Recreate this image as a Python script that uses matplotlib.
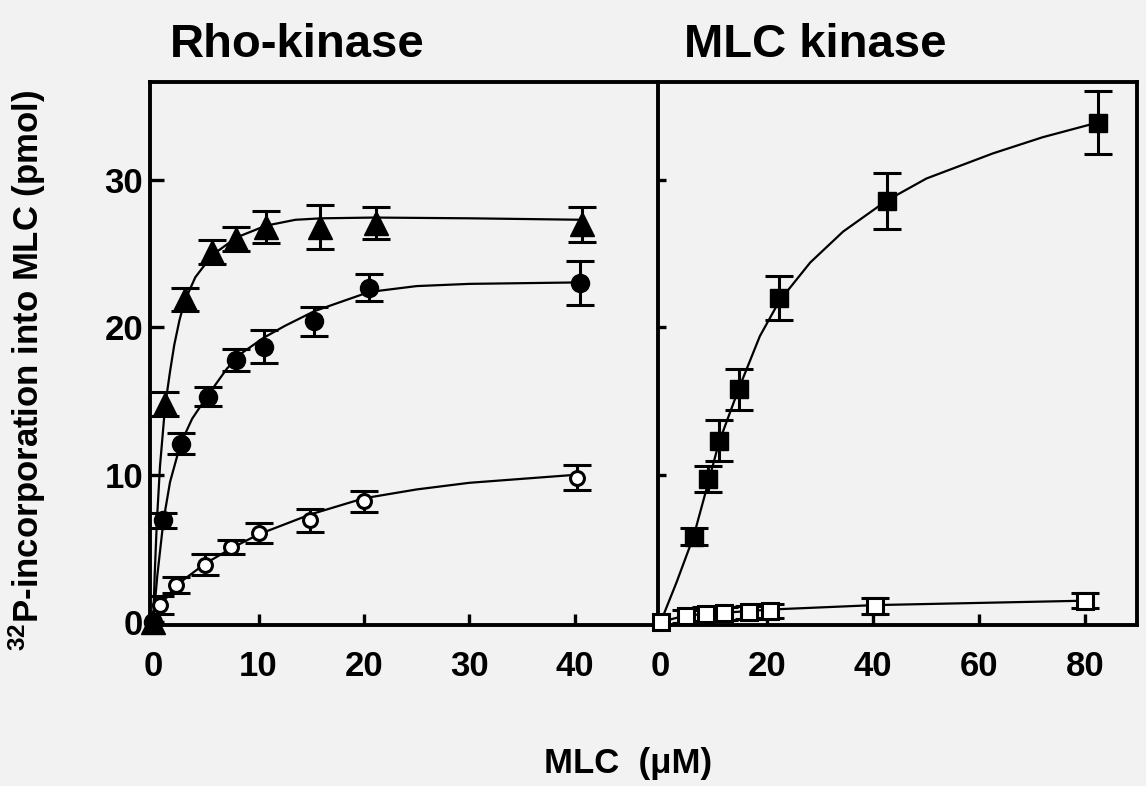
import matplotlib
matplotlib.use('Agg')
import matplotlib.pyplot as plt
import numpy as np

# ---------------- data ----------------
# Rho-kinase panel
tri_x = [0, 1.14, 3.0, 5.6, 7.9, 10.7, 15.8, 21.1, 40.7]
tri_y = [0, 14.8, 21.9, 25.1, 26.0, 26.8, 26.8, 27.1, 27.0]
tri_err = [0, 0.8, 0.8, 0.8, 0.8, 1.1, 1.5, 1.1, 1.2]

circ_x = [0, 0.98, 2.6, 5.2, 7.9, 10.5, 15.3, 20.5, 40.5]
circ_y = [0, 6.9, 12.1, 15.3, 17.8, 18.7, 20.4, 22.7, 23.0]
circ_err = [0, 0.5, 0.7, 0.65, 0.75, 1.15, 1.0, 0.9, 1.5]

ocirc_x = [0, 0.66, 2.2, 4.9, 7.4, 10.0, 14.9, 20.0, 40.2]
ocirc_y = [0, 1.15, 2.5, 3.9, 5.1, 6.05, 6.9, 8.2, 9.8]
ocirc_err = [0, 0.6, 0.55, 0.7, 0.5, 0.7, 0.8, 0.7, 0.85]

# fitted curves as drawn in the figure
tri_cx = [0, 0.15, 0.35, 0.65, 1.14, 1.6, 2.0, 2.5, 3.0, 4.0, 5.6, 7.9, 10.7, 13.5, 16, 21, 30, 40.7]
tri_cy = [0, 3.3, 6.8, 10.6, 14.7, 17.0, 18.8, 20.5, 21.8, 23.4, 24.9, 26.1, 26.9, 27.3, 27.4, 27.45, 27.4, 27.3]

circ_cx = [0, 0.4, 0.98, 1.6, 2.6, 3.7, 5.2, 7.0, 8.5, 10.5, 12.5, 15.3, 20.5, 25, 30, 40.5]
circ_cy = [0, 3.2, 6.9, 9.5, 12.1, 13.8, 15.4, 17.2, 18.3, 19.3, 20.1, 21.1, 22.4, 22.8, 22.95, 23.05]

ocirc_cx = [0, 0.66, 2.2, 4.9, 7.4, 10.0, 14.9, 20.0, 25, 30, 40.2]
ocirc_cy = [0, 1.1, 2.5, 3.95, 5.0, 5.95, 7.3, 8.4, 9.0, 9.45, 10.0]

# MLC kinase panel
sq_x = [6.2, 9.0, 11.0, 14.8, 22.4, 42.6, 82.4]
sq_y = [5.8, 9.7, 12.3, 15.8, 22.0, 28.6, 33.9]
sq_err = [0.6, 0.9, 1.4, 1.4, 1.5, 1.9, 2.15]

sq_cx = [0, 3, 6.2, 9.0, 11.0, 14.8, 18.7, 22.4, 28.2, 34.4, 42.6, 50.1, 62.6, 72, 82.4]
sq_cy = [0, 2.7, 5.8, 9.5, 12.2, 15.9, 19.4, 21.8, 24.4, 26.5, 28.6, 30.1, 31.8, 32.9, 33.9]

osq_x = [0, 4.7, 8.6, 12.0, 16.6, 20.7, 40.4, 80.0]
osq_y = [0, 0.4, 0.55, 0.6, 0.65, 0.75, 1.1, 1.45]
osq_err = [0, 0.45, 0.45, 0.45, 0.45, 0.45, 0.52, 0.53]

osq_cx = [0, 4.7, 20.7, 40.4, 80.0]
osq_cy = [0, 0.45, 0.85, 1.15, 1.45]

left_xticks = [0, 10, 20, 30, 40]
right_xticks = [0, 20, 40, 60, 80]
left_yticks = [0, 10, 20, 30]
right_yticks = [10, 20, 30]

# ---------------- style ----------------
BG = '#f2f2f2'
plt.rcParams['font.family'] = ['Liberation Sans', 'DejaVu Sans']
plt.rcParams['font.weight'] = 'bold'
plt.rcParams['mathtext.fontset'] = 'custom'
plt.rcParams['mathtext.rm'] = 'Liberation Sans:bold'
plt.rcParams['mathtext.bf'] = 'Liberation Sans:bold'
plt.rcParams['mathtext.it'] = 'Liberation Sans:bold'

W, H = 1146, 786
fig = plt.figure(figsize=(W / 100, H / 100), dpi=100, facecolor=BG)


def frac(x0, y0, x1, y1):
    return [x0 / W, 1 - y1 / H, (x1 - x0) / W, (y1 - y0) / H]


axL = fig.add_axes(frac(150, 82, 658, 625))
axR = fig.add_axes(frac(658, 82, 1137, 625))

SPW = 2.8
for ax in (axL, axR):
    ax.set_facecolor(BG)
    for s in ax.spines.values():
        s.set_linewidth(SPW)
axL.spines['right'].set_visible(False)

YLIM = (-0.2, 36.65)
axL.set_xlim(-0.3, 47.9)
axR.set_xlim(-0.5, 89.8)
axL.set_ylim(*YLIM)
axR.set_ylim(*YLIM)

axL.set_xticks(left_xticks)
axR.set_xticks(right_xticks)
axL.set_yticks(left_yticks)
axR.set_yticks(right_yticks)

axL.tick_params(axis='both', direction='in', width=2.4, labelsize=25)
axL.tick_params(axis='y', length=10, pad=5)
axL.tick_params(axis='x', length=8, pad=18)
axR.tick_params(axis='both', direction='in', width=2.4, labelsize=25)
axR.tick_params(axis='x', length=8, pad=18)
axR.tick_params(axis='y', length=6, labelleft=False)
for ax in (axL, axR):
    for lab in ax.get_xticklabels() + ax.get_yticklabels():
        lab.set_fontweight('bold')

LW = 1.6
EB = dict(fmt='none', ecolor='black', elinewidth=2.2, capsize=10, capthick=2.2, zorder=3)


def series(ax, x, y, err, cx, cy, marker, ms, filled):
    ax.plot(cx, cy, color='black', lw=LW, zorder=2, clip_on=False)
    x = np.asarray(x); y = np.asarray(y); err = np.asarray(err)
    m = err > 0
    ax.errorbar(x[m], y[m], yerr=err[m], **EB)
    if filled:
        ax.plot(x, y, ls='none', marker=marker, ms=ms, color='black', zorder=4, clip_on=False)
    else:
        ax.plot(x, y, ls='none', marker=marker, ms=ms, mfc='white', mec='black', mew=2.2,
                zorder=4, clip_on=False)


series(axL, ocirc_x, ocirc_y, ocirc_err, ocirc_cx, ocirc_cy, 'o', 10, False)
series(axL, circ_x, circ_y, circ_err, circ_cx, circ_cy, 'o', 13, True)
series(axL, tri_x, tri_y, tri_err, tri_cx, tri_cy, '^', 17, True)

series(axR, sq_x, sq_y, sq_err, sq_cx, sq_cy, 's', 12.5, True)
series(axR, osq_x, osq_y, osq_err, osq_cx, osq_cy, 's', 11, False)

# ---------------- texts ----------------
fig.text(170 / W, 1 - 45 / H, 'Rho-kinase', fontsize=34, fontweight='bold', ha='left', va='center')
fig.text(684 / W, 1 - 45 / H, 'MLC kinase', fontsize=34, fontweight='bold', ha='left', va='center')
fig.text(628 / W, 1 - 763 / H, 'MLC  (\u03bcM)', fontsize=25, fontweight='bold', ha='center', va='center')
fig.text(27 / W, 1 - 370 / H, r'$^{32}$P-incorporation into MLC (pmol)', fontsize=25,
         fontweight='bold', rotation=90, ha='center', va='center')

fig.savefig('out.png', dpi=100, facecolor=BG)
